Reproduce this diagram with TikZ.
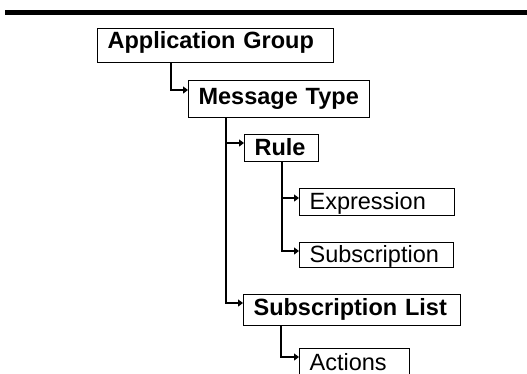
\documentclass[tikz,border=0pt]{standalone}
\usepackage{fontspec}
\setmainfont{Liberation Sans}
\usetikzlibrary{arrows.meta}

\tikzset{
  item/.style={draw, line width=1.2pt, anchor=north west, inner xsep=10pt,
    inner ysep=0pt, text height=21pt, align=left, font=\fontsize{23.5}{26}\selectfont},
  group/.style={item, font=\fontsize{23.5}{26}\selectfont\bfseries},
  link/.style={line width=1.2pt, -{Triangle[length=5pt,width=7pt]}}
}

\begin{document}
\begin{tikzpicture}[x=1pt,y=-1pt]
\useasboundingbox (0,0) rectangle (527,373);
\clip (0,0) rectangle (527,373);
% heading rule
\fill (5,9.5) rectangle (527,14.5);
% boxes
\node[group, text width=216pt, text height=20pt, text depth=14pt] (appgroup) at (97,28) {Application Group};
\node[group, text width=161pt, text height=24pt, text depth=13pt] (msgtype) at (188,80) {Message Type};
\node[group, text width=54pt, text depth=6pt] (rule) at (244,134) {Rule};
\node[item, text width=135pt, text depth=6pt] (expr) at (299,188) {Expression};
\node[item, text width=134pt, text height=20pt, text depth=5pt] (subscr) at (299,242) {Subscription};
\node[group, text width=197pt, text depth=10pt] (sublist) at (243,294) {Subscription List};
\node[item, text width=90pt, text height=22pt, text depth=5pt] (actions) at (299,348) {Actions};
% links
\draw[link] ([xshift=74pt]appgroup.south west) |- ([yshift=-10pt]msgtype.north west);
\draw[link] ([xshift=38pt]msgtype.south west) |- ([yshift=-9pt]rule.north west);
\draw[link] ([xshift=38pt]msgtype.south west) |- ([yshift=-9pt]sublist.north west);
\draw[link] ([xshift=38pt]rule.south west) |- ([yshift=-10pt]expr.north west);
\draw[link] ([xshift=38pt]rule.south west) |- ([yshift=-9pt]subscr.north west);
\draw[link] ([xshift=38pt]sublist.south west) |- ([yshift=-9pt]actions.north west);
\end{tikzpicture}
\end{document}
